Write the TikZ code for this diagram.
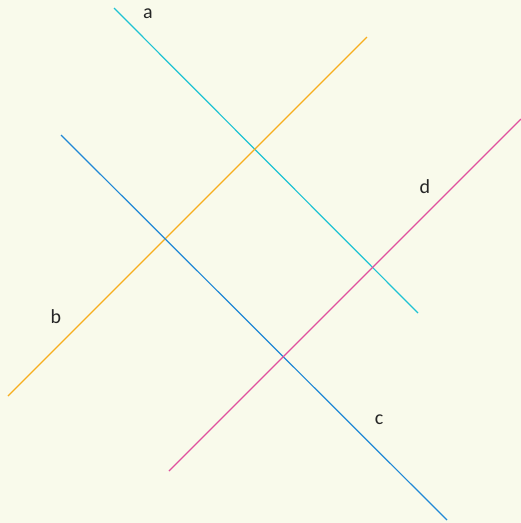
\documentclass[tikz,border=0pt]{standalone}
\usepackage{fontspec}
\setmainfont{Carlito}
\definecolor{bg}{HTML}{F9FAEB}
\definecolor{lcyan}{HTML}{1FC3D3}
\definecolor{lorange}{HTML}{F7AE1E}
\definecolor{lblue}{HTML}{2088D6}
\definecolor{lpink}{HTML}{E0509E}
\begin{document}
\begin{tikzpicture}[x=1pt,y=-1pt,
  ln/.style={line width=1.2pt},
  lbl/.style={font=\fontsize{20}{24}\selectfont, text=black!85, inner sep=0pt}]
\fill[bg] (0,0) rectangle (521,523);
\useasboundingbox (0,0) rectangle (521,523);
\coordinate (a1) at (114,8);
\coordinate (a2) at (418,313);
\coordinate (b1) at (367,37);
\coordinate (b2) at (8,396);
\coordinate (c1) at (61,135);
\coordinate (c2) at (447,520);
\coordinate (d1) at (521,119);
\coordinate (d2) at (169,471);
\draw[ln, lcyan] (a1) -- (a2);
\draw[ln, lorange] (b1) -- (b2);
\draw[ln, lblue] (c1) -- (c2);
\draw[ln, lpink] (d1) -- (d2);
\node[lbl] (la) at (148,14) {a};
\node[lbl] (lb) at (56,317) {b};
\node[lbl] (lc) at (379,420) {c};
\node[lbl] (ld) at (425,187) {d};
\end{tikzpicture}
\end{document}
